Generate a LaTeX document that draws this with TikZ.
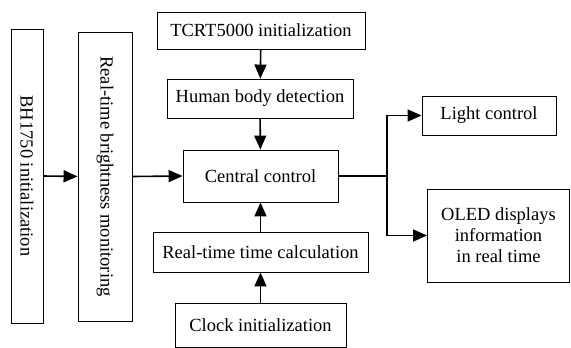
\documentclass[tikz,border=0pt]{standalone}
\usepackage{fontspec}
\setmainfont{Liberation Serif}
\usetikzlibrary{arrows.meta}

\begin{document}
\begin{tikzpicture}[x=1pt, y=-1pt,
    box/.style={draw, line width=0.9pt, inner sep=0pt, align=center,
      font=\fontsize{18.5}{21}\selectfont},
    flow/.style={line width=1.6pt, -{Triangle[length=14pt,width=12pt]}}]
      \useasboundingbox (0,0) rectangle (571,348);
      \node[box, rotate=-90, minimum width=294pt, minimum height=32pt] (bh) at (27,176) {BH1750 initialization};
      \node[box, rotate=-90, minimum width=289pt, minimum height=54pt] (bright) at (105,176.5) {Real-time brightness monitoring};
      \node[box, minimum width=208pt, minimum height=37pt] (tcrt) at (261,30.5) {TCRT5000 initialization};
      \node[box, minimum width=186pt, minimum height=39pt] (human) at (260,98.5) {Human body detection};
      \node[box, minimum width=155pt, minimum height=52pt] (central) at (260.5,176) {Central control};
      \node[box, minimum width=215pt, minimum height=40pt] (calc) at (260.5,252) {Real-time time calculation};
      \node[box, minimum width=171pt, minimum height=44pt] (clock) at (260.5,325) {Clock initialization};
      \node[box, minimum width=134pt, minimum height=39pt] (light) at (489,115.5) {Light control};
      \node[box, minimum width=142pt, minimum height=93pt] (oled) at (498.5,235.5) {OLED displays\\information\\in real time};
      \coordinate (split) at (387,176);
      \draw[flow] (bh.north) -- (bright.south);
      \draw[flow] (bright.north) -- (central.west);
      \draw[flow] (tcrt) -- (human);
      \draw[flow] (human) -- (central);
      \draw[flow] (calc) -- (central);
      \draw[flow] (clock) -- (calc);
      \draw[line width=1.6pt] (central.east) -- (split);
      \draw[flow] (split) |- (light.west);
      \draw[flow] (split) |- (oled.west);
    \end{tikzpicture}
\end{document}
